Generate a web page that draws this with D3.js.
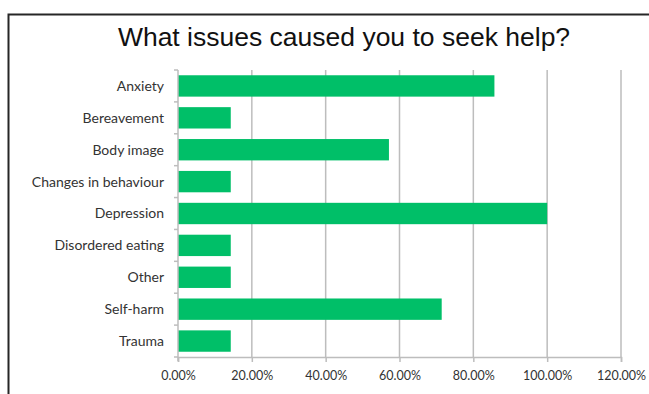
<!DOCTYPE html>
<html>
<head>
<meta charset="utf-8">
<script src="https://cdn.jsdelivr.net/npm/d3@7"></script>
<style>
  body { margin: 0; background: #fff; }
  svg { display: block; }
</style>
</head>
<body>
<div id="chart"></div>
<script>
var categories = ["Anxiety", "Bereavement", "Body image", "Changes in behaviour",
  "Depression", "Disordered eating", "Other", "Self-harm", "Trauma"];
var values = [85.71, 14.29, 57.14, 14.29, 100, 14.29, 14.29, 71.43, 14.29];
var tickValues = [0, 20, 40, 60, 80, 100, 120];

var width = 649;
var height = 394;
var margin = { top: 70, right: 28, bottom: 37, left: 178 };

var svg = d3.select('#chart')
  .append('svg')
  .attr('width', width)
  .attr('height', height);

// outer frame (cropped at right and bottom)
svg.append('rect')
  .attr('x', 8.5)
  .attr('y', 14.5)
  .attr('width', 700)
  .attr('height', 500)
  .attr('fill', 'none')
  .attr('stroke', '#262626')
  .attr('stroke-width', 2);

svg.append('text')
  .attr('x', 344)
  .attr('y', 46)
  .attr('text-anchor', 'middle')
  .style('font-family', 'Liberation Sans, Arial, sans-serif')
  .style('font-size', '26.5px')
  .style('fill', '#111')
  .text('What issues caused you to seek help?');

var x = d3.scaleLinear()
  .domain([0, 120])
  .range([margin.left, width - margin.right]);

var y = d3.scaleBand()
  .domain(categories)
  .range([margin.top, height - margin.bottom])
  .paddingInner(0.33)
  .paddingOuter(0.165);

var g = svg.append('g');

// vertical gridlines
g.selectAll('line.grid')
  .data(tickValues.slice(1))
  .enter()
  .append('line')
  .attr('class', 'grid')
  .attr('x1', d => x(d))
  .attr('x2', d => x(d))
  .attr('y1', margin.top)
  .attr('y2', height - margin.bottom)
  .attr('stroke', '#bdbdbd')
  .attr('stroke-width', 1.5);

g.selectAll('rect.bar')
  .data(values)
  .enter()
  .append('rect')
  .attr('class', 'bar')
  .attr('x', x(0))
  .attr('y', (d, i) => y(categories[i]))
  .attr('width', d => x(d) - x(0))
  .attr('height', y.bandwidth())
  .attr('fill', '#00bf68');

// x axis
var xAxis = svg.append('g')
  .attr('transform', 'translate(0,' + (height - margin.bottom) + ')')
  .call(d3.axisBottom(x)
    .tickValues(tickValues)
    .tickSize(5)
    .tickPadding(9)
    .tickFormat(d => d.toFixed(2) + '%'));

xAxis.select('.domain').attr('stroke', '#bdbdbd').attr('stroke-width', 1.5);
xAxis.selectAll('.tick line').attr('stroke', '#bdbdbd').attr('stroke-width', 1.5);
xAxis.selectAll('.tick text')
  .style('font-family', 'Lato, sans-serif')
  .style('font-size', '12.5px')
  .style('fill', '#333');

// y axis with ticks at band boundaries
var yAxis = svg.append('g')
  .attr('transform', 'translate(' + margin.left + ',0)');

yAxis.append('line')
  .attr('y1', margin.top)
  .attr('y2', height - margin.bottom + 4)
  .attr('stroke', '#bdbdbd')
  .attr('stroke-width', 1.5);

var bounds = d3.range(categories.length + 1).map(i => margin.top + i * (height - margin.top - margin.bottom) / categories.length);
yAxis.selectAll('line.tk')
  .data(bounds)
  .enter()
  .append('line')
  .attr('class', 'tk')
  .attr('x1', -4)
  .attr('x2', 0)
  .attr('y1', d => d)
  .attr('y2', d => d)
  .attr('stroke', '#bdbdbd')
  .attr('stroke-width', 1.5);

yAxis.selectAll('text')
  .data(categories)
  .enter()
  .append('text')
  .attr('x', -14)
  .attr('y', d => y(d) + y.bandwidth() / 2)
  .attr('dy', '0.35em')
  .attr('text-anchor', 'end')
  .style('font-family', 'Lato, sans-serif')
  .style('font-size', '14px')
  .style('fill', '#333')
  .text(d => d);
</script>
</body>
</html>
